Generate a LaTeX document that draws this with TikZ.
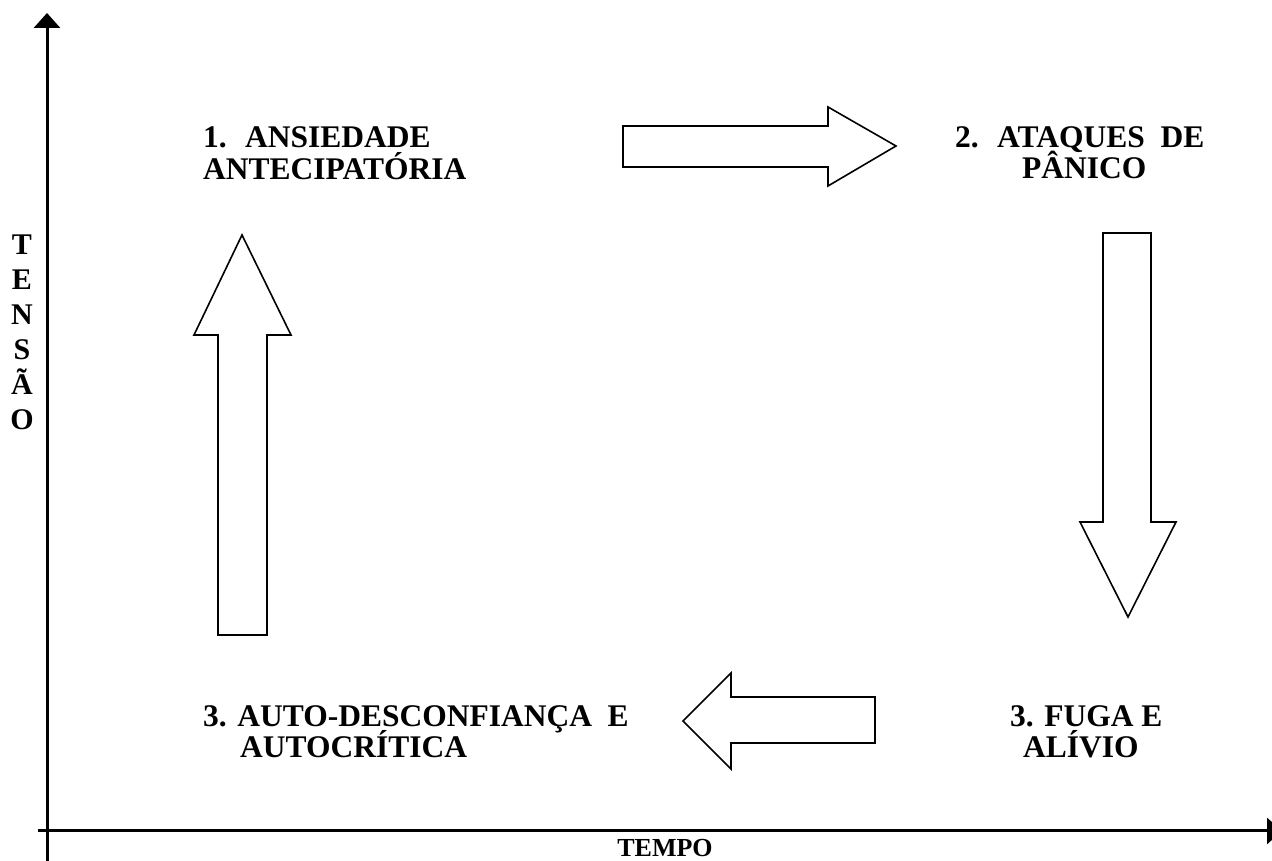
\documentclass[tikz,border=0pt]{standalone}
\usepackage{fontspec}
\setmainfont{Liberation Serif}
\usetikzlibrary{arrows.meta}
\begin{document}
\begin{tikzpicture}[x=1pt,y=1pt,
  axis/.style={line width=3pt,-{Triangle[width=26pt,length=15pt]}},
  blockarrow/.style={draw=black,line width=1.6pt,line join=miter,fill=white},
  lbl/.style={inner sep=0pt,anchor=base west,font=\fontsize{31.5}{35}\bfseries\selectfont},
  axlbl/.style={inner sep=0pt,anchor=base,font=\fontsize{30}{35}\bfseries\selectfont}]
\useasboundingbox (0,0) rectangle (1272,861);
% axes
\coordinate (yb) at (47,0);
\coordinate (yt) at (47,848);
\coordinate (xl) at (38,30);
\coordinate (xr) at (1282,30);
\draw[axis] (yb) -- (yt);
\draw[axis] (xl) -- (xr);
% block arrows (y = 861 - Y)
\draw[blockarrow] (623,735) -- (828,735) -- (828,754) -- (896,715) -- (828,675) -- (828,694) -- (623,694) -- cycle;
\draw[blockarrow] (1103,628) -- (1151,628) -- (1151,339) -- (1176,339) -- (1128,244) -- (1080,339) -- (1103,339) -- cycle;
\draw[blockarrow] (875,164) -- (731,164) -- (731,188) -- (683,140) -- (731,92) -- (731,118) -- (875,118) -- cycle;
\draw[blockarrow] (218,226) -- (267,226) -- (267,526) -- (291,526) -- (242,626) -- (194,526) -- (218,526) -- cycle;
% labels
\node[lbl] (a1) at (203,713) {1.~ ANSIEDADE};
\node[lbl] (a2) at (203,681) {ANTECIPATÓRIA};
\node[lbl] (b1) at (955,713) {2.~ ATAQUES~ DE};
\node[lbl] (b2) at (1022,682) {PÂNICO};
\node[lbl] (c1) at (1010,134) {3. FUGA E};
\node[lbl] (c2) at (1023,103) {ALÍVIO};
\node[lbl] (d1) at (203,134) {3. AUTO-DESCONFIANÇA~ E};
\node[lbl] (d2) at (240,103) {AUTOCRÍTICA};
\node[axlbl,font=\fontsize{26}{30}\bfseries\selectfont] (tempo) at (665,4) {TEMPO};
\foreach \ch [count=\i] in {T,E,N,S,Ã,O}
  \node[axlbl] (ten\i) at (22,{606-35*(\i-1)}) {\ch};
\end{tikzpicture}
\end{document}
